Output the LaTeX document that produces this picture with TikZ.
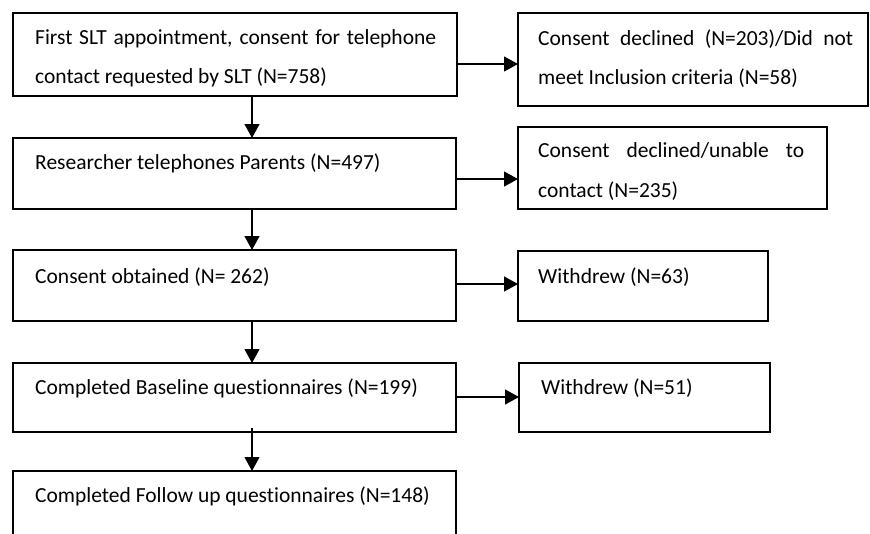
\documentclass[tikz,border=0pt]{standalone}
\usepackage{fontspec}
\setmainfont[Ligatures=NoCommon]{Carlito}
\usetikzlibrary{arrows.meta,calc}

\begin{document}
\begin{tikzpicture}[x=1pt,y=1pt,
  box/.style={draw, line width=1.2pt, inner sep=0pt, outer sep=0pt, anchor=north west},
  txt/.style={anchor=base west, inner sep=0pt, font=\fontsize{21.5}{26}\selectfont},
  arr/.style={draw, line width=1.1pt, -{Triangle[length=14pt,width=15pt]}}]

  \path[use as bounding box] (0,0) rectangle (870,-533);
  \clip (0,0) rectangle (870,-533);

  % main column
  \node[box, minimum width=444pt, minimum height=83pt] (b1) at (13,-13) {};
  \node[box, minimum width=443pt, minimum height=71pt] (b2) at (13,-138) {};
  \node[box, minimum width=443pt, minimum height=71pt] (b3) at (13,-250) {};
  \node[box, minimum width=443pt, minimum height=69pt] (b4) at (13,-363) {};
  \node[box, minimum width=443pt, minimum height=100pt] (b5) at (13,-471) {};

  % exclusion column
  \node[box, minimum width=350pt, minimum height=93pt] (r1) at (518,-13) {};
  \node[box, minimum width=309pt, minimum height=82pt] (r2) at (518,-127) {};
  \node[box, minimum width=250pt, minimum height=70pt] (r3) at (518,-251) {};
  \node[box, minimum width=251pt, minimum height=69pt] (r4) at (519,-363) {};

  % box texts
  \node[txt] (t1a) at (35,-44) {\makebox[401pt][s]{First SLT appointment, consent for telephone}};
  \node[txt] (t1b) at (35,-83) {contact requested by SLT (N=758)};
  \node[txt] (t2) at (35,-169) {Researcher telephones Parents (N=497)};
  \node[txt] (t3) at (35,-283) {Consent obtained (N= 262)};
  \node[txt] (t4) at (35,-394) {Completed Baseline questionnaires (N=199)};
  \node[txt] (t5) at (35,-502) {Completed Follow up questionnaires (N=148)};

  \node[txt] (s1a) at (538,-45) {\makebox[315pt][s]{Consent declined (N=203)/Did not}};
  \node[txt] (s1b) at (538,-84) {meet Inclusion criteria (N=58)};
  \node[txt] (s2a) at (538,-157) {\makebox[266pt][s]{Consent declined/unable to}};
  \node[txt] (s2b) at (538,-197) {contact (N=235)};
  \node[txt] (s3) at (538,-283) {Withdrew (N=63)};
  \node[txt] (s4) at (541,-394) {Withdrew (N=51)};

  % connector guides
  \coordinate (vx) at (252,0);
  \coordinate (h1) at (0,-64);
  \coordinate (h2) at (0,-179);
  \coordinate (h3) at (0,-284);
  \coordinate (h4) at (0,-397);

  % downward flow
  \draw[arr] (b1.south -| vx) -- (b2.north -| vx);
  \draw[arr] (b2.south -| vx) -- (b3.north -| vx);
  \draw[arr] (b3.south -| vx) -- (b4.north -| vx);
  \draw[arr] ([yshift=4pt]b4.south -| vx) -- (b5.north -| vx);

  % exclusions
  \draw[arr] (b1.east |- h1) -- (r1.west |- h1);
  \draw[arr] (b2.east |- h2) -- (r2.west |- h2);
  \draw[arr] (b3.east |- h3) -- (r3.west |- h3);
  \draw[arr] (b4.east |- h4) -- (r4.west |- h4);
\end{tikzpicture}
\end{document}
